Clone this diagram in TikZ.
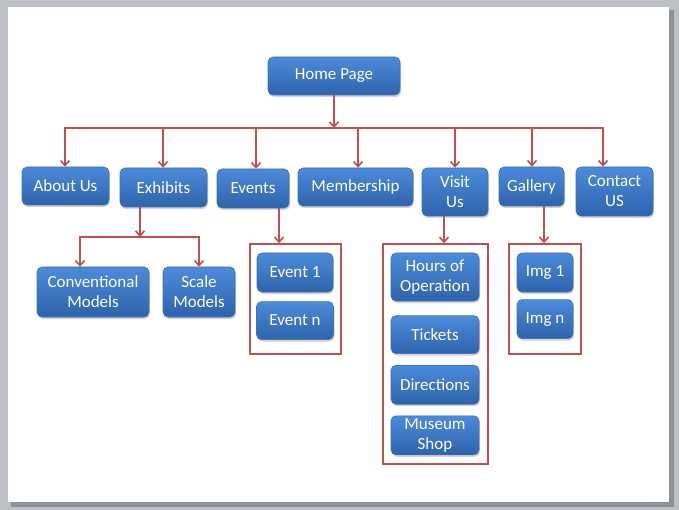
\documentclass[tikz,border=0pt]{standalone}
\usepackage{fontspec}
\setmainfont{Carlito}
\usepackage{tikz}
\usetikzlibrary{arrows.meta,positioning,shadows}
\definecolor{boxtop}{HTML}{4C8BDB}
\definecolor{boxbot}{HTML}{2E63AB}
\definecolor{boxline}{HTML}{3A70B8}
\definecolor{linkred}{HTML}{C0504D}
\definecolor{deskgray}{HTML}{BCBFC4}
\definecolor{shadegray}{HTML}{8E9196}
\tikzset{
  pagebox/.style={
    rectangle, rounded corners=5pt, draw=boxline, line width=0.6pt,
    top color=boxtop, bottom color=boxbot, text=white,
    drop shadow={shadow xshift=1pt, shadow yshift=-2pt, opacity=0.35},
    font=\fontsize{17}{20}\selectfont, align=center,
    inner sep=1pt, minimum width=#1, minimum height=39pt
  },
  pagebox/.default=88pt,
  groupframe/.style={
    rectangle, draw=linkred, line width=1.6pt, inner sep=0pt,
    minimum width=#1
  },
  groupframe/.default=91pt,
  link/.style={
    -{Straight Barb[length=5pt,width=9pt]}, draw=linkred, line width=1.6pt
  },
  bus/.style={draw=linkred, line width=1.6pt, line cap=rect},
}

\begin{document}
\begin{tikzpicture}[x=1pt, y=-1pt]
  % slide
  \fill[deskgray] (0,0) rectangle (679,510);
  \fill[shadegray] (11,10) rectangle (674,507);
  \fill[white] (8,7) rectangle (669,502);
  \useasboundingbox (0,0) rectangle (679,510);

  % top levels
  \node[pagebox=132pt, minimum height=38pt] (home) at (334,76) {Home Page};
  \node[pagebox=87pt, minimum height=38pt] (about) at (65.5,186) {About Us};
  \node[pagebox=87pt] (exhibits) at (163.5,187.5) {Exhibits};
  \node[pagebox=72pt] (events) at (253,188.5) {Events};
  \node[pagebox=115pt, minimum height=38pt] (membership) at (355.5,187) {Membership};
  \node[pagebox=66pt, minimum height=48pt] (visit) at (455,192) {Visit\\Us};
  \node[pagebox=65pt] (gallery) at (531.5,186.5) {Gallery};
  \node[pagebox=77pt, minimum height=49pt] (contact) at (614.5,191.5) {Contact\\US};

  % exhibits
  \node[pagebox=112pt, minimum height=50pt] (conventional) at (93,292) {Conventional\\Models};
  \node[pagebox=72pt, minimum height=50pt] (scale) at (199,292) {Scale\\Models};

  % events
  \node[groupframe=91pt, minimum height=110pt] (evframe) at (295.5,299) {};
  \node[pagebox=76pt] (event1) at (295,272.5) {Event 1};
  \node[pagebox=77pt, minimum height=38pt, below=9pt of event1] (eventn) {Event n};

  % visit us
  \node[groupframe=105pt, minimum height=220pt] (visitframe) at (435.5,354) {};
  \node[pagebox=88pt, minimum height=48pt] (hours) at (435,277) {Hours of\\Operation};
  \node[pagebox=88pt, minimum height=38pt, below=14pt of hours] (tickets) {Tickets};
  \node[pagebox=88pt, below=11pt of tickets] (directions) {Directions};
  \node[pagebox=88pt, below=11pt of directions] (shop) {Museum\\Shop};

  % gallery
  \node[groupframe=72pt, minimum height=110pt] (galframe) at (545,299) {};
  \node[pagebox=56pt] (img1) at (545,272.5) {Img 1};
  \node[pagebox=56pt, below=7pt of img1] (imgn) {Img n};

  % connectors
  \foreach \n/\x in {about/65,exhibits/163,events/256,membership/358,visit/455,gallery/532,contact/603}
    \coordinate (d-\n) at (\x,128);
  \draw[bus] (d-about) -- (d-contact);
  \draw[link] (home) -- (home |- d-about);
  \foreach \n in {about,exhibits,events,membership,visit,gallery,contact}
    \draw[link] (d-\n) -- (d-\n |- \n.north);

  \coordinate (d-exh) at (140,237);
  \coordinate (d-conv) at (80,237);
  \coordinate (d-scale) at (199,237);
  \draw[link] (exhibits.south -| d-exh) -- (d-exh);
  \draw[bus] (d-conv) -- (d-scale);
  \draw[link] (d-conv) -- (d-conv |- conventional.north);
  \draw[link] (d-scale) -- (d-scale |- scale.north);

  \coordinate (d-ev) at (279,0);
  \coordinate (d-vis) at (444,0);
  \coordinate (d-gal) at (544,0);
  \draw[link] (events.south -| d-ev) -- (evframe.north -| d-ev);
  \draw[link] (visit.south -| d-vis) -- (visitframe.north -| d-vis);
  \draw[link] (gallery.south -| d-gal) -- (galframe.north -| d-gal);
\end{tikzpicture}
\end{document}
